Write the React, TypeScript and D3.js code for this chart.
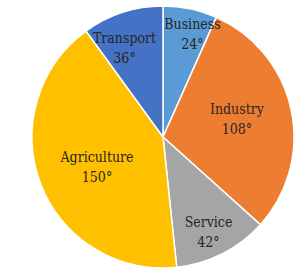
import React from "react";
import * as d3 from "d3";

const categories = ["Business", "Industry", "Service", "Agriculture", "Transport"];
const degrees = [24, 108, 42, 150, 36];
const colors = ["#5B9BD5", "#ED7D31", "#A5A5A5", "#FFC000", "#4472C4"];
// label placement (layout only): distance as fraction of radius, angular nudge in degrees
const labelRadiusFrac = [0.778, 0.573, 0.841, 0.57, 0.703];
const labelAngleShift = [4.8, 2, 2.6, -6.9, -6.7];

export default function App() {
  const width = 299, height = 273;
  const cx = 163, cy = 137, r = 131;
  const pie = d3.pie<number>().sort(null).value((d) => d)(degrees);
  const arc = d3.arc<d3.PieArcDatum<number>>().innerRadius(0).outerRadius(r);
  return (
    <svg width={width} height={height} style={{ position: "absolute", left: 0, top: 0 }}>
      <rect width={width} height={height} fill="#fff" />
      <g transform={`translate(${cx},${cy})`}>
        {pie.map((p, i) => (
          <path key={i} d={arc(p) || ""} fill={colors[i]} stroke="#fff" strokeWidth={1.5} />
        ))}
        {pie.map((p, i) => {
          const a = (p.startAngle + p.endAngle) / 2 + (labelAngleShift[i] * Math.PI) / 180;
          const lr = r * labelRadiusFrac[i];
          const x = Math.sin(a) * lr;
          const y = -Math.cos(a) * lr;
          return (
            <text key={i} x={x} y={y} textAnchor="middle" style={{ fontFamily: "'DejaVu Serif Condensed', 'DejaVu Serif'", fontSize: 14 }} fill="#262626">
              <tspan x={x} y={y - 10}>{categories[i]}</tspan>
              <tspan x={x} y={y + 10}>{`${degrees[i]}°`}</tspan>
            </text>
          );
        })}
      </g>
    </svg>
  );
}
